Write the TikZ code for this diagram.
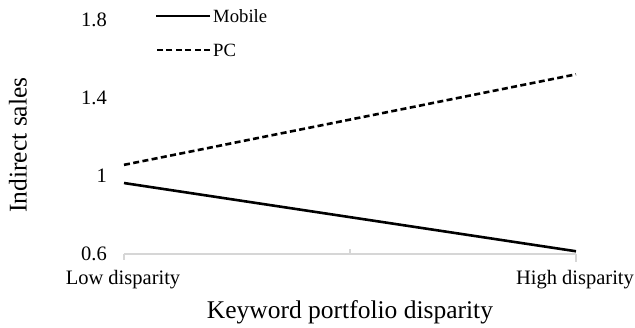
\documentclass[tikz,border=0pt]{standalone}
\usepackage{fontspec}
\setmainfont{Liberation Serif}
\usetikzlibrary{positioning}
% geometry of the plot (1 unit = 1pt)
\newcommand{\axy}{73}       % height of the category axis
\newcommand{\xlo}{124}      % low disparity
\newcommand{\xhi}{576}      % high disparity
\newcommand{\vstep}{195.5}  % pt per unit of indirect sales
\newcommand{\lblx}{107}     % right edge of the value labels
\tikzset{
    axisline/.style={draw=black!16,line width=1.3pt},
    ticklbl/.style={anchor=east,inner sep=0pt,font=\fontsize{20.5}{24}\selectfont},
    catlbl/.style={inner sep=0pt,font=\fontsize{20.5}{24}\selectfont},
    titlelbl/.style={inner sep=0pt,font=\fontsize{25.5}{30}\selectfont},
    legtxt/.style={anchor=west,inner sep=0pt,font=\fontsize{18.7}{22}\selectfont},
    mobileline/.style={line width=2.6pt},
    pcline/.style={line width=2.6pt,dash pattern=on 6pt off 3.4pt},
}

\begin{document}
\begin{tikzpicture}[x=1pt,y=1pt]
    \useasboundingbox (0,0) rectangle (635,327);    % Freeze the bounding box
    %
    % --- --- --- Category axis
    \coordinate (AXL) at (\xlo,\axy);
    \coordinate (AXR) at (\xhi,\axy);
    \coordinate (AXM) at ({(\xlo+\xhi)/2},\axy);
    \draw[axisline] (AXL) -- (AXR);
    \draw[axisline] (AXL) -- ++(0,-6);
    \draw[axisline] (AXM) -- ++(0,5);
    \draw[axisline] (AXR) -- ++(0,-8);
    %
    % --- --- --- Value labels
    \foreach \v/\t [count=\i] in {0.6/0.6,1.0/1,1.4/1.4,1.8/1.8}
        \node[ticklbl] (V\i) at (\lblx,{\axy+\vstep*(\v-0.6)}) {\t};
    %
    % --- --- --- Category labels
    \node[catlbl] (LOW) at (123,47) {Low disparity};
    \node[catlbl] (HIGH) at (575,47) {High disparity};
    %
    % --- --- --- Axis titles
    \node[titlelbl] (XTTL) at (350,15) {Keyword portfolio disparity};
    \node[titlelbl,rotate=90] (YTTL) at (18,182) {Indirect sales};
    %
    % --- --- --- Data
    \coordinate (MOB0) at (\xlo,{\axy+\vstep*(0.963-0.6)});
    \coordinate (MOB1) at (\xhi,{\axy+\vstep*(0.614-0.6)});
    \coordinate (PC0)  at (\xlo,{\axy+\vstep*(1.056-0.6)});
    \coordinate (PC1)  at (\xhi,{\axy+\vstep*(1.519-0.6)});
    \draw[mobileline] (MOB0) -- (MOB1);
    \draw[pcline] (PC0) -- (PC1);
    %
    % --- --- --- Legend
    \node[legtxt] (LEGMOB) at (213,311) {Mobile};
    \node[legtxt,below=34pt of LEGMOB.west,anchor=west] (LEGPC) {PC};
    \draw[mobileline] ([xshift=-3pt]LEGMOB.west) -- ++(-54,0);
    \draw[pcline] ([xshift=-3pt]LEGPC.west) -- ++(-54,0);
\end{tikzpicture}
\end{document}
